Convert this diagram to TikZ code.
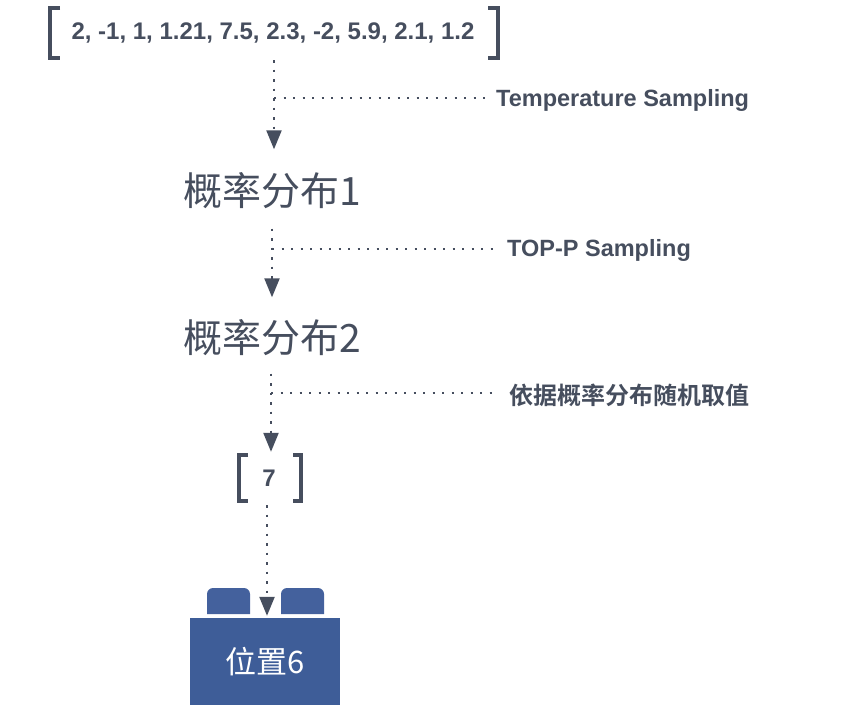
\documentclass[tikz,border=0pt]{standalone}
\usepackage{fontspec}
\setmainfont{Liberation Sans}
\newfontfamily\cjk[BoldFont={Noto Sans CJK SC Bold}]{Noto Sans CJK SC}
\usetikzlibrary{arrows.meta}
\definecolor{ink}{HTML}{464E5E}
\definecolor{boxblue}{HTML}{3E5D98}
\definecolor{tabblue}{HTML}{44619D}
\tikzset{
  dotline/.style={ink, line width=2.3pt, dash pattern=on 2.3pt off 7.2pt},
  flow/.style={dotline, -{Triangle[width=15pt,length=19pt]}},
  brk/.style={ink, line width=3.5pt, miter limit=10},
  numtxt/.style={inner sep=0pt, text=ink, font=\fontsize{24}{28}\selectfont\bfseries},
  cjktxt/.style={inner sep=0pt, text=ink, text height=34.3pt, text depth=4.7pt,
    font=\cjk\fontsize{39}{42}\selectfont},
  lab/.style={inner sep=0pt, anchor=west, text=ink, font=\fontsize{23.5}{26}\selectfont\bfseries},
  cjklab/.style={inner sep=0pt, anchor=west, text=ink, font=\cjk\bfseries\fontsize{24}{26}\selectfont},
  posbox/.style={fill=boxblue, minimum width=150pt, minimum height=87pt, inner sep=0pt,
    text=white, font=\cjk\fontsize{31}{34}\selectfont},
}
\begin{document}
\begin{tikzpicture}[x=1pt,y=-1pt]
\useasboundingbox (0,0) rectangle (842,720);
% top vector
\node[numtxt, minimum height=50pt] (arr) at (273,33) {2, -1, 1, 1.21, 7.5, 2.3, -2, 5.9, 2.1, 1.2};
\draw[brk] (60,8) -- (50,8) -- (50,58) -- (60,58);
\draw[brk] (488,8) -- (498,8) -- (498,58) -- (488,58);
% distributions
\node[cjktxt] (p1) at (272,191) {概率分布1};
\node[cjktxt] (p2) at (272,338) {概率分布2};
% sampled value
\node[numtxt, minimum height=50pt] (seven) at (269,478) {7};
\draw[brk] (248,455) -- (239,455) -- (239,501) -- (248,501);
\draw[brk] (293,455) -- (301,455) -- (301,501) -- (293,501);
% position box
\fill[tabblue] (207,614) [rounded corners=6pt] -- (207,588) -- (250,588) [sharp corners] -- (250,614) -- cycle;
\fill[tabblue] (281,614) [rounded corners=6pt] -- (281,588) -- (324,588) [sharp corners] -- (324,614) -- cycle;
\node[posbox] (pos) at (265,661.5) {位置6};
% labels
\node[lab] (l1) at (496,100) {Temperature Sampling};
\node[lab] (l2) at (507,250) {TOP-P Sampling};
\node[cjklab] (l3) at (509,395) {依据概率分布随机取值};
% branch points
\coordinate (b1) at (274,98);
\coordinate (b2) at (272,249);
\coordinate (b3) at (271,393);
\coordinate (b4) at (267,560);
% connectors
\draw[flow, shorten <=2pt, shorten >=22pt] (b1 |- arr.south) -- (b1 |- p1.north);
\draw[flow, shorten <=18pt, shorten >=21pt] (b2 |- p1.south) -- (b2 |- p2.north);
\draw[flow, shorten <=16pt, shorten >=1pt] (b3 |- p2.south) -- (b3 |- seven.north);
\draw[flow, shorten <=2pt, shorten >=2pt] (b4 |- seven.south) -- (b4 |- pos.north);
\draw[dotline, shorten >=8pt] (b1) -- (b1 -| l1.west);
\draw[dotline, shorten >=9pt] (b2) -- (b2 -| l2.west);
\draw[dotline, shorten >=16pt] (b3) -- (b3 -| l3.west);
\end{tikzpicture}
\end{document}
